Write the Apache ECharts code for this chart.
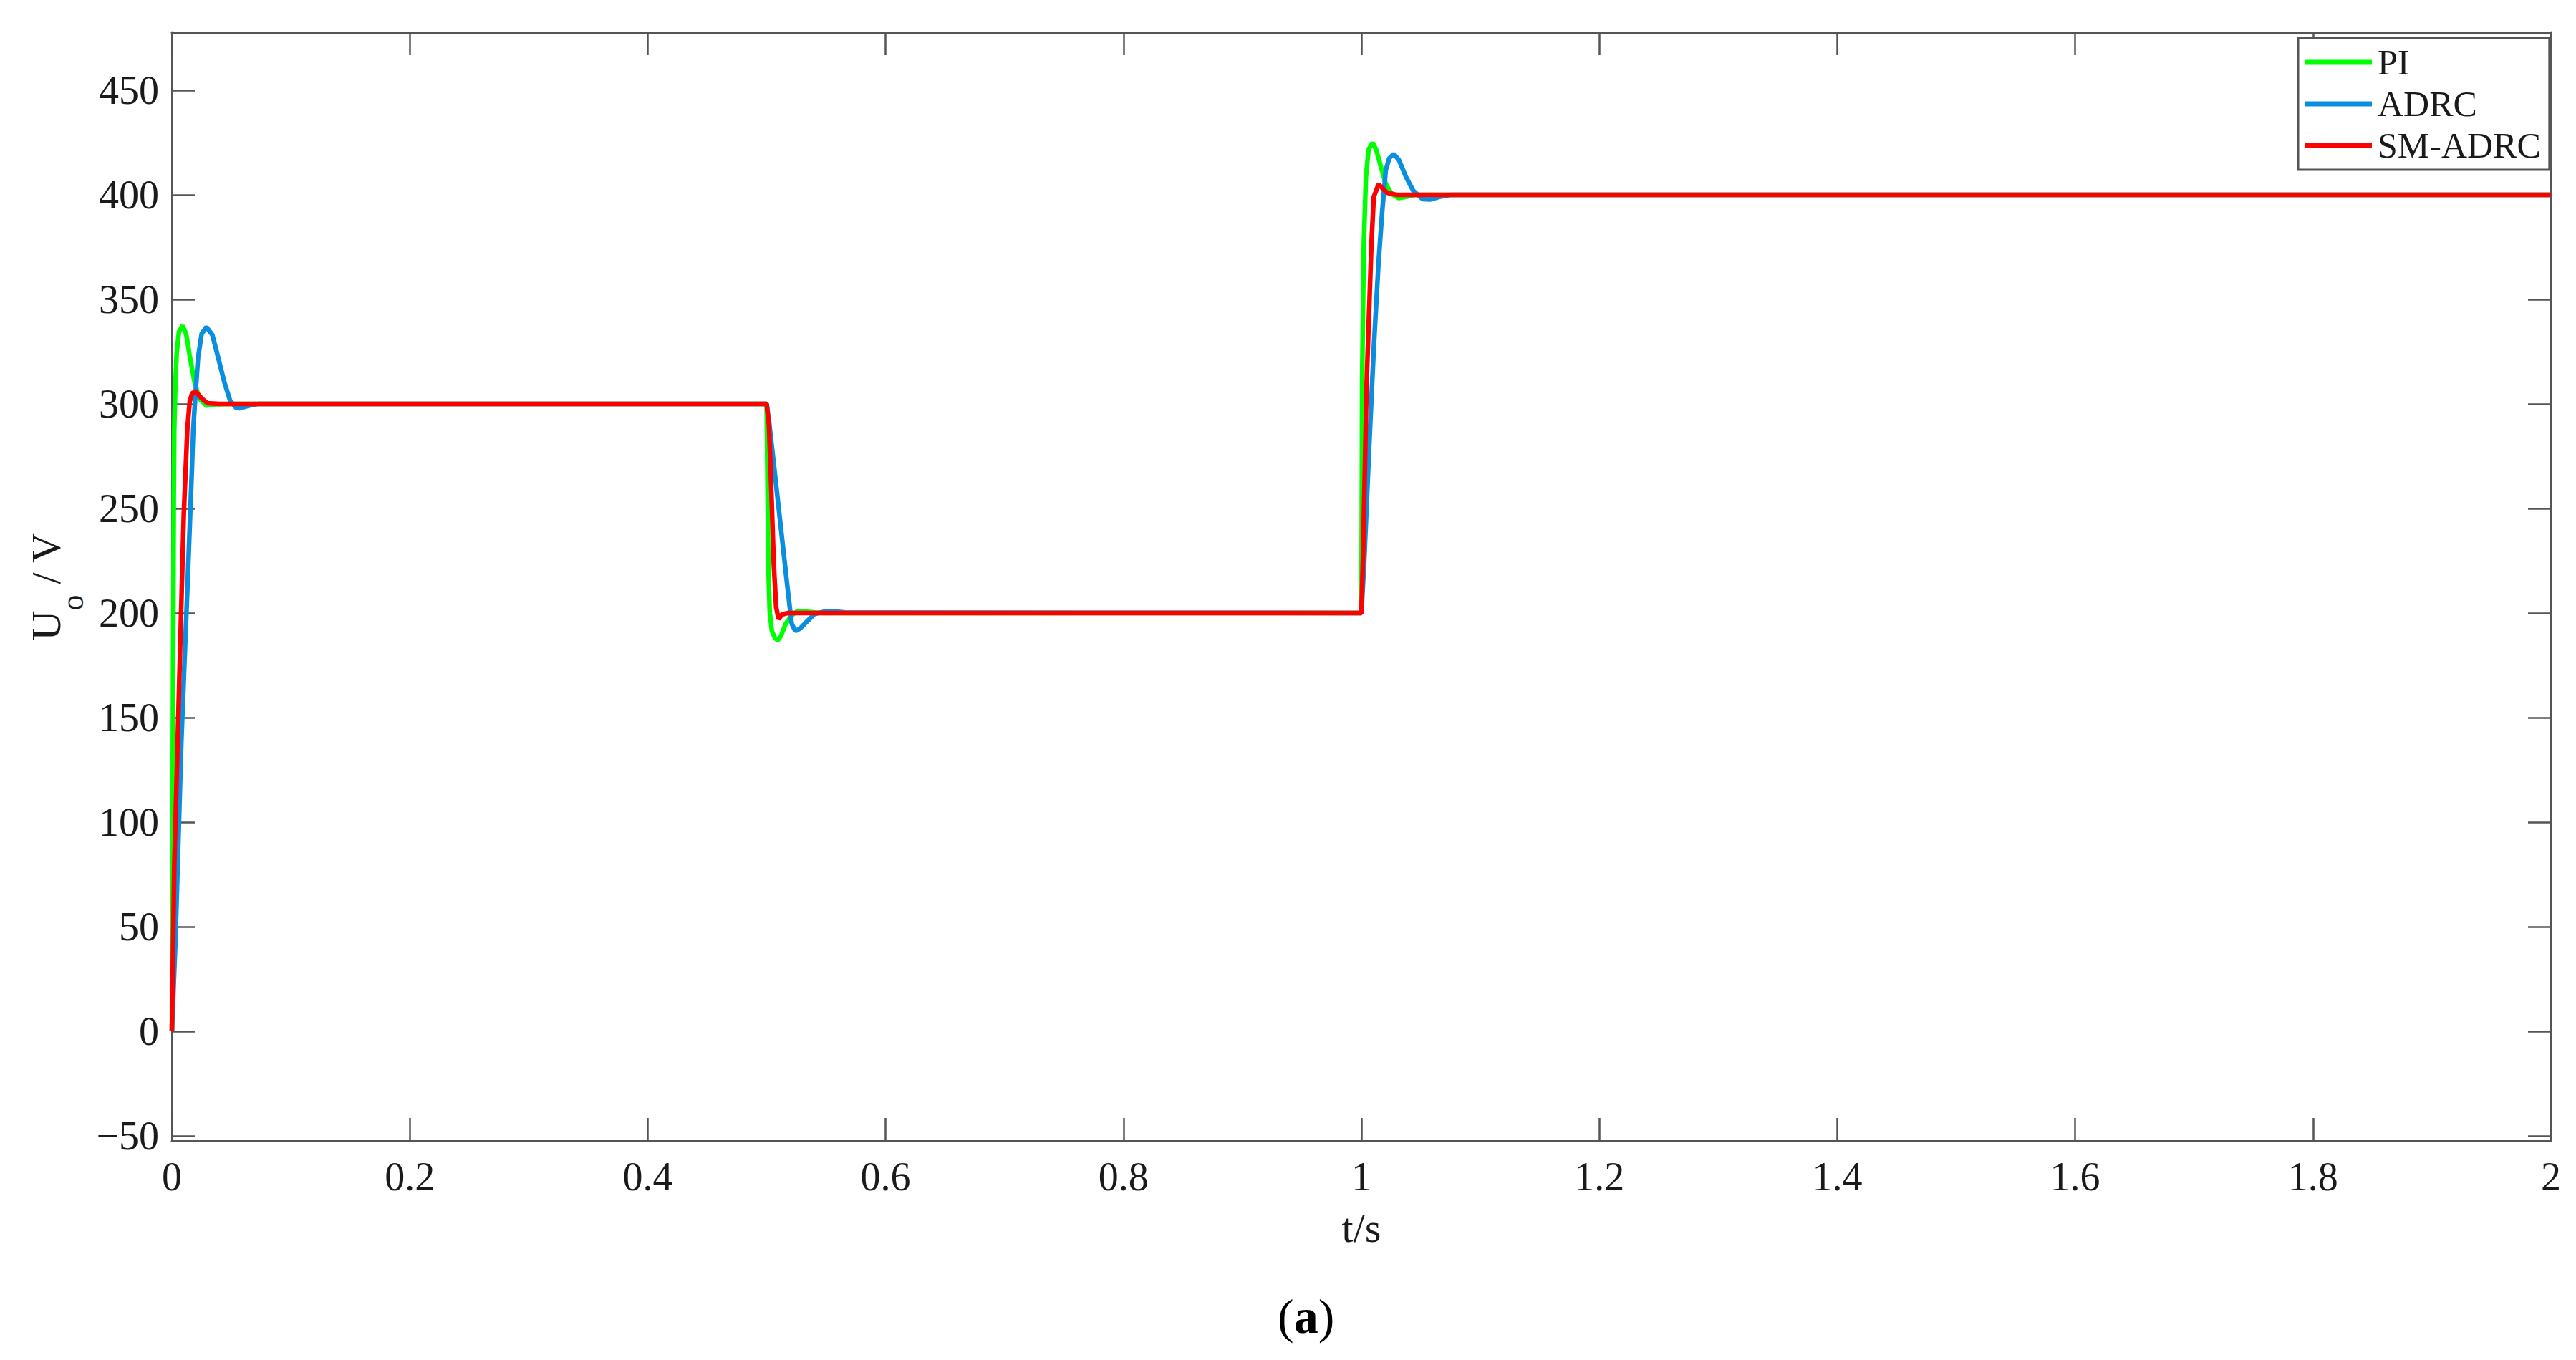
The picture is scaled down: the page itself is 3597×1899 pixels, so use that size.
<!DOCTYPE html>
<html>
<head>
<meta charset="utf-8">
<script src="https://cdn.jsdelivr.net/npm/echarts@6/dist/echarts.min.js"></script>
<style>
html,body{margin:0;padding:0;background:#fff;}
#chart{width:3597px;height:1899px;}
</style>
</head>
<body>
<div id="chart"></div>
<script>
// ---- data ----
const seriesNames = ['PI', 'ADRC', 'SM-ADRC'];

const timePI = [0, 0.0005, 0.001, 0.0016, 0.002, 0.003, 0.004, 0.006, 0.009, 0.012, 0.015, 0.019, 0.023, 0.029, 0.037, 0.05,
  0.5, 0.5006, 0.5014, 0.5026, 0.5044, 0.507, 0.5094, 0.512, 0.516, 0.521, 0.526, 0.534, 0.546,
  1.0, 1.0003, 1.0006, 1.002, 1.0038, 1.006, 1.0094, 1.0124, 1.0164, 1.0205, 1.0255, 1.0315, 1.0375, 1.0455, 2.0];
const valuesPI = [0, 85, 170, 255, 288, 310, 324, 334.6, 337.4, 333.4, 323, 310.6, 302.6, 299.2, 299.8, 300,
  300, 269, 223, 200.5, 191.4, 188, 187, 189, 194.8, 198.8, 201, 200.6, 200,
  200, 245, 310, 376, 408.5, 421.6, 424.9, 421.6, 413.4, 405.2, 400.3, 398.4, 399, 400, 400];

const timeADRC = [0, 0.003, 0.008, 0.013, 0.017, 0.018, 0.020, 0.022, 0.025, 0.029, 0.034, 0.039, 0.044, 0.049, 0.054, 0.057, 0.065, 0.073,
  0.5, 0.502, 0.5056, 0.5097, 0.5138, 0.5178, 0.5211, 0.5241, 0.528, 0.534, 0.540, 0.550, 0.556, 0.566,
  1.0, 1.0024, 1.0064, 1.0104, 1.0144, 1.0175, 1.0205, 1.0235, 1.0271, 1.0315, 1.0375, 1.0435, 1.0516, 1.0576, 1.0656, 1.0756, 2.0];
const valuesADRC = [0, 43, 139, 211, 271, 288, 306, 322, 333.4, 336.8, 333, 322, 310.6, 301.5, 298.1, 297.9, 299.2, 300,
  300, 291.7, 273.5, 252.4, 231.3, 210.8, 194.8, 191.4, 192.5, 196, 199.4, 200.9, 200.8, 200.2,
  200, 225, 277.5, 326.6, 367.6, 392.1, 411.8, 417.5, 419.5, 416.7, 408.5, 402, 397.9, 397.7, 399, 400, 400];

const timeSM = [0, 0.002, 0.006, 0.010, 0.013, 0.015, 0.017, 0.020, 0.025, 0.030, 0.04,
  0.5, 0.502, 0.504, 0.506, 0.508, 0.510, 0.513, 0.518,
  1.0, 1.0014, 1.0044, 1.0084, 1.0104, 1.0144, 1.0215, 1.0295, 2.0];
const valuesSM = [0, 79, 163, 247, 288, 301, 305, 306, 302.6, 300.3, 300,
  300, 289.5, 257.5, 223.3, 202.8, 197.1, 199.3, 200,
  200, 228, 310, 376, 399, 405, 401, 400, 400];

const xTicks = [0, 0.2, 0.4, 0.6, 0.8, 1, 1.2, 1.4, 1.6, 1.8, 2];
const yTicks = [-50, 0, 50, 100, 150, 200, 250, 300, 350, 400, 450];

// ---- chart ----
const zip = (t, v) => t.map((x, i) => [x, v[i]]);
const FONT = '"Liberation Serif", "Times New Roman", serif';
const AX = '#555555';
const TXT = '#1a1a1a';

const chart = echarts.init(document.getElementById('chart'), null, {renderer: 'svg'});

const fmtY = v => (v < 0 ? '\u2212' + Math.abs(v) : String(v));

const axisLineStyle = {show: true, onZero: false, lineStyle: {color: AX, width: 3}};
const tickStyle = {color: AX, width: 2.5};
const LW = 6.5;

const option = {
  animation: false,
  backgroundColor: '#ffffff',
  title: {
    text: '{p|(}{b|a}{p|)}',
    left: 1784, top: 1804,
    textStyle: {
      rich: {
        p: {fontFamily: FONT, fontSize: 68, color: '#000', fontWeight: 'normal'},
        b: {fontFamily: FONT, fontSize: 68, color: '#000', fontWeight: 'bold'}
      }
    },
    padding: 0
  },
  legend: {
    data: seriesNames,
    orient: 'vertical',
    left: 3209, top: 53,
    padding: [9, 12, 9, 9],
    itemGap: 8,
    itemWidth: 94,
    itemHeight: 7,
    icon: 'rect',
    backgroundColor: '#ffffff',
    borderColor: AX,
    borderWidth: 3,
    borderRadius: 0,
    textStyle: {fontFamily: FONT, fontSize: 50, color: TXT, lineHeight: 50, padding: [0, 0, 0, 3]}
  },
  grid: {left: 240, top: 45, right: 35, bottom: 306, containLabel: false},
  xAxis: [{
    type: 'value', min: 0, max: 2, interval: 0.2,
    name: 't/s', nameLocation: 'middle', nameGap: 92,
    nameTextStyle: {fontFamily: FONT, fontSize: 58, color: TXT},
    axisLine: axisLineStyle,
    axisTick: {show: true, inside: true, length: 32, lineStyle: tickStyle, customValues: xTicks},
    axisLabel: {show: true, margin: 22, fontFamily: FONT, fontSize: 56, color: TXT, showMinLabel: true, showMaxLabel: true,
      customValues: xTicks},
    splitLine: {show: false}
  }, {
    type: 'value', min: 0, max: 2, interval: 0.2, position: 'top',
    axisLine: axisLineStyle,
    axisTick: {show: true, inside: true, length: 32, lineStyle: tickStyle, customValues: xTicks},
    axisLabel: {show: false},
    splitLine: {show: false}
  }],
  yAxis: [{
    type: 'value', min: -52.4, max: 477.7, position: 'left',
    name: '{u|U}{s|o}{u| / V}', nameLocation: 'middle', nameGap: 115,
    nameTextStyle: {
      rich: {
        u: {fontFamily: FONT, fontSize: 58, color: TXT, lineHeight: 58, verticalAlign: 'top'},
        s: {fontFamily: FONT, fontSize: 44, color: TXT, lineHeight: 88, verticalAlign: 'bottom'}
      }
    },
    axisLine: axisLineStyle,
    axisTick: {show: true, inside: true, length: 32, lineStyle: tickStyle, customValues: yTicks},
    axisLabel: {show: true, margin: 18, fontFamily: FONT, fontSize: 56, color: TXT, customValues: yTicks, formatter: fmtY},
    splitLine: {show: false}
  }, {
    type: 'value', min: -52.4, max: 477.7, position: 'right',
    axisLine: axisLineStyle,
    axisTick: {show: true, inside: true, length: 32, lineStyle: tickStyle, customValues: yTicks},
    axisLabel: {show: false, customValues: yTicks},
    splitLine: {show: false}
  }],
  series: [
    {name: 'PI', type: 'line', data: zip(timePI, valuesPI), showSymbol: false, color: '#00ff00',
      lineStyle: {width: LW, color: '#00ff00'}, z: 2},
    {name: 'ADRC', type: 'line', data: zip(timeADRC, valuesADRC), showSymbol: false, color: '#0a8ee0',
      lineStyle: {width: LW, color: '#0a8ee0'}, z: 3},
    {name: 'SM-ADRC', type: 'line', data: zip(timeSM, valuesSM), showSymbol: false, color: '#ff0000',
      lineStyle: {width: LW, color: '#ff0000'}, z: 4}
  ]
};
chart.setOption(option);
</script>
</body>
</html>
